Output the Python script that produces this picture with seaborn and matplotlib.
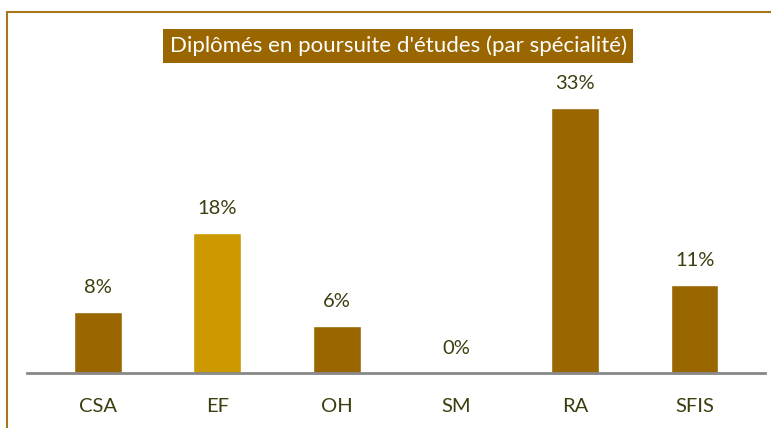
import matplotlib
matplotlib.use("Agg")
import matplotlib.pyplot as plt
import seaborn as sns
import pandas as pd
from matplotlib.lines import Line2D

categories = ["CSA", "EF", "OH", "SM", "RA", "SFIS"]
values = [7.6, 17.4, 5.9, 0.0, 33.0, 11.0]
labels = ["8%", "18%", "6%", "0%", "33%", "11%"]
colors = ["#996600", "#cc9900", "#996600", "#996600", "#996600", "#996600"]
title = "Diplômés en poursuite d'études (par spécialité)"

sns.set_theme(style="white")
plt.rcParams["font.family"] = ["Lato", "DejaVu Sans"]

df = pd.DataFrame({"cat": categories, "val": values})

W, H = 771, 428
fig = plt.figure(figsize=(W / 100, H / 100), dpi=100)
ax_left, ax_bottom, ax_w, ax_top = 27, 373, 738, 20
ax = fig.add_axes([ax_left / W, (H - ax_bottom) / H, ax_w / W, (ax_bottom - ax_top) / H])

sns.barplot(data=df, x="cat", y="val", hue="cat", palette=colors, legend=False,
            width=0.4, ax=ax, saturation=1)

ymax = (ax_bottom - ax_top) * 33.0 / 265
ax.set_ylim(0, ymax)
ax.set_xlim(-0.595, 5.59)

text_color = "#3d3d10"
for i, (v, lab) in enumerate(zip(values, labels)):
    ax.annotate(lab, (i, v), xytext=(0, 17.5), textcoords="offset points",
                ha="center", va="center", fontsize=14.5, color=text_color)

ax.set_xlabel("")
ax.set_ylabel("")
ax.set_yticks([])
ax.tick_params(axis="x", length=0, pad=18, labelsize=14.5, labelcolor=text_color)
for s in ["top", "right", "left"]:
    ax.spines[s].set_visible(False)
ax.spines["bottom"].set_color("#888888")
ax.spines["bottom"].set_linewidth(2)

# outer border (left and top)
fig.add_artist(Line2D([7 / W, 7 / W], [0, 1 - 12 / H], transform=fig.transFigure,
                      color="#a8761a", linewidth=1.5))
fig.add_artist(Line2D([7 / W, 1], [1 - 12 / H, 1 - 12 / H], transform=fig.transFigure,
                      color="#a8761a", linewidth=1.5))

# title box
fig.text(398 / W, 1 - 46 / H, title, ha="center", va="center", fontsize=16,
         color="white",
         bbox=dict(boxstyle="square,pad=0.3", facecolor="#996600", edgecolor="none"))

fig.savefig("out.png", dpi=100)
